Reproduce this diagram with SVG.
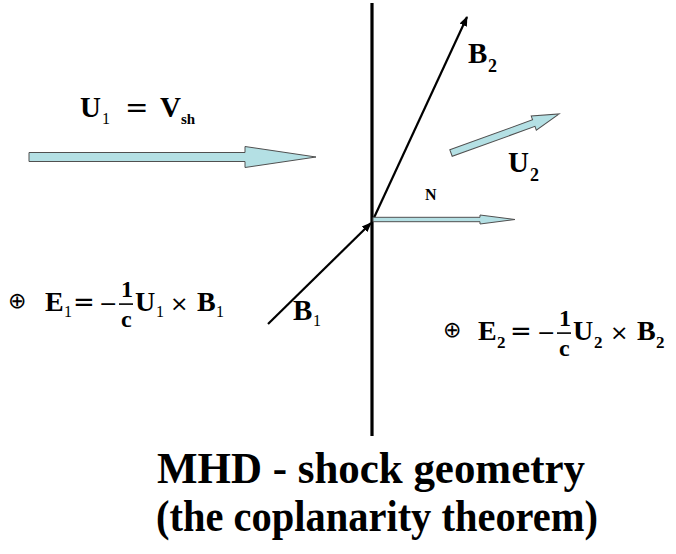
<svg xmlns="http://www.w3.org/2000/svg" width="676" height="554" viewBox="0 0 676 554">
<defs>
<style>
.b{font-family:'Liberation Serif','Times New Roman','DejaVu Serif',serif;font-weight:bold;fill:#000}
.r{font-family:'Liberation Serif','Times New Roman','DejaVu Serif',serif;font-weight:normal;fill:#000}
.s{font-family:'DejaVu Sans',sans-serif;font-weight:normal;fill:#000}
.fat{fill:#b4e0e4;stroke:#505050;stroke-width:1;stroke-linejoin:miter}
.ln{stroke:#000;fill:none}
</style>
<marker id="ah" viewBox="0 0 10 10" refX="9" refY="5" markerWidth="10" markerHeight="10" markerUnits="userSpaceOnUse" orient="auto">
<path d="M0,1 L10,5 L0,9 Z" fill="#000"/>
</marker>
</defs>
<rect width="676" height="554" fill="#fff"/>

<g id="shock-front">
<line class="ln" x1="372" y1="3" x2="372" y2="436" stroke-width="3.2"/>
</g>

<g id="connectors">
<line class="ln" x1="268" y1="324" x2="371" y2="223" stroke-width="2.2" marker-end="url(#ah)"/>
<line class="ln" x1="372" y1="222" x2="467" y2="17" stroke-width="2.2" marker-end="url(#ah)"/>
</g>

<g id="arrow-U1">
<polygon class="fat" points="29,152.5 245,152.5 245,146.5 316,157 245,167.5 245,161.5 29,161.5"/>
</g>
<g id="arrow-N">
<polygon class="fat" points="373,217.3 480,217.3 480,215 515,219.5 480,224 480,221.7 373,221.7"/>
</g>
<g id="arrow-U2">
<polygon class="fat" transform="translate(451,153) rotate(-19.86)" points="0,-3.5 88,-3.5 88,-7.5 115,0 88,7.5 88,3.5 0,3.5"/>
</g>

<g id="label-U1">
<text class="b" x="80" y="117" font-size="29">U</text>
<text class="r" x="102" y="124" font-size="16">1</text>
<text class="s" x="125" y="117" font-size="28">=</text>
<text class="b" x="160" y="117" font-size="29">V</text>
<text class="b" x="181" y="124" font-size="15">sh</text>
</g>

<g id="label-B2">
<text class="b" x="468" y="63" font-size="29">B</text>
<text class="b" x="488" y="72" font-size="18">2</text>
</g>

<g id="label-U2">
<text class="b" x="508" y="172" font-size="29">U</text>
<text class="b" x="530" y="181" font-size="18">2</text>
</g>

<g id="label-N">
<text class="b" x="425" y="200" font-size="16">N</text>
</g>

<g id="label-B1">
<text class="b" x="293" y="320" font-size="29">B</text>
<text class="r" x="313" y="326" font-size="16">1</text>
</g>

<g id="formula-E1">
<text class="s" x="8" y="308" font-size="22">⊕</text>
<text class="b" x="45" y="311" font-size="28">E</text>
<text class="r" x="64" y="317" font-size="16">1</text>
<text class="s" x="73" y="311" font-size="26">=</text>
<text class="s" x="99" y="311" font-size="22">−</text>
<text class="b" x="121" y="297" font-size="24">1</text>
<rect x="119" y="303.3" width="14" height="1.6" fill="#000"/>
<text class="b" x="121" y="327" font-size="24">c</text>
<text class="b" x="135" y="311" font-size="28">U</text>
<text class="r" x="156" y="317" font-size="16">1</text>
<text class="s" x="170" y="311" font-size="22">×</text>
<text class="b" x="197" y="311" font-size="28">B</text>
<text class="r" x="216" y="317" font-size="16">1</text>
</g>

<g id="formula-E2">
<text class="s" x="443" y="337" font-size="22">⊕</text>
<text class="b" x="478" y="340" font-size="28">E</text>
<text class="b" x="497" y="348" font-size="17">2</text>
<text class="s" x="510" y="340" font-size="26">=</text>
<text class="s" x="537" y="340" font-size="22">−</text>
<text class="b" x="559" y="326" font-size="24">1</text>
<rect x="557" y="332.3" width="14" height="1.6" fill="#000"/>
<text class="b" x="559" y="356" font-size="24">c</text>
<text class="b" x="573" y="340" font-size="28">U</text>
<text class="b" x="594" y="348" font-size="17">2</text>
<text class="s" x="610" y="340" font-size="22">×</text>
<text class="b" x="637" y="340" font-size="28">B</text>
<text class="b" x="656" y="348" font-size="17">2</text>
</g>

<g id="title">
<text class="b" x="371" y="483" font-size="45" text-anchor="middle" textLength="428" lengthAdjust="spacingAndGlyphs">MHD - shock geometry</text>
<text class="b" x="377" y="531" font-size="45" text-anchor="middle" textLength="442" lengthAdjust="spacingAndGlyphs">(the coplanarity theorem)</text>
</g>
</svg>
